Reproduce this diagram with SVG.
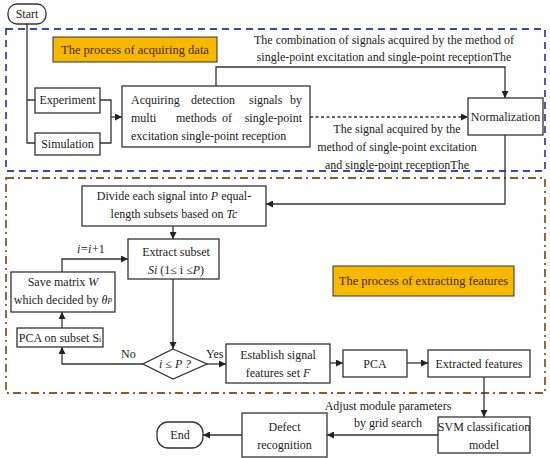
<svg xmlns="http://www.w3.org/2000/svg" width="550" height="458" viewBox="0 0 550 458" font-family="'Liberation Serif','DejaVu Serif',serif">
<defs>
<marker id="ah" viewBox="0 0 10 10" refX="10" refY="5" markerWidth="7" markerHeight="7" markerUnits="userSpaceOnUse" orient="auto"><path d="M0,0 L10,5 L0,10 z" fill="#222"/></marker>
<style>
text{font-family:"Liberation Serif","DejaVu Serif",serif;font-size:12px;fill:#222}
.m{text-anchor:middle}
.e{text-anchor:end}
.box{fill:#fff;stroke:#333;stroke-width:1.3}
.lab{fill:#f7b800;stroke:#333;stroke-width:1}
.lt{fill:#4a2800;font-size:12.5px}
.ln{fill:none;stroke:#333;stroke-width:1.3}
.it{font-style:italic}
</style>
</defs>
<rect x="6" y="29" width="539" height="142" fill="none" stroke="#3848b8" stroke-width="1.8" stroke-dasharray="7,5"/>
<rect x="6" y="178" width="539" height="215" fill="none" stroke="#8b5a2b" stroke-width="1.8" stroke-dasharray="8,4,2,4"/>
<g id="connectors">
<path class="ln" d="M27,24 V143 H35 M27,100 H35"/>
<path class="ln" d="M100,100 H111 V143 H100"/>
<path class="ln" d="M111,117 H122" marker-end="url(#ah)"/>
<path class="ln" d="M216,86 V67 H505 V98" marker-end="url(#ah)"/>
<path class="ln" d="M310,117 H468" stroke-dasharray="3,2.5" marker-end="url(#ah)"/>
<path class="ln" d="M505,135 V204 H266" marker-end="url(#ah)"/>
<path class="ln" d="M173,226 V239" marker-end="url(#ah)"/>
<path class="ln" d="M62,272 V259 H128" marker-end="url(#ah)"/>
<path class="ln" d="M173,279 V349" marker-end="url(#ah)"/>
<path class="ln" d="M143,364 H62 V347" marker-end="url(#ah)"/>
<path class="ln" d="M62,328 V312" marker-end="url(#ah)"/>
<path class="ln" d="M207,364 H226" marker-end="url(#ah)"/>
<path class="ln" d="M330,363 H343" marker-end="url(#ah)"/>
<path class="ln" d="M407,363 H428" marker-end="url(#ah)"/>
<path class="ln" d="M484,377 V417" marker-end="url(#ah)"/>
<path class="ln" d="M438,435 H327" marker-end="url(#ah)"/>
<path class="ln" d="M242,435 H203" marker-end="url(#ah)"/>
<text class="m" x="384" y="44">The combination of signals acquired by the method of</text>
<text class="m" x="384" y="61">single-point excitation and single-point receptionThe</text>
<text class="m" x="397" y="133">The signal acquired by the</text>
<text class="m" x="397" y="151">method of single-point excitation</text>
<text class="m" x="397" y="169">and single-point receptionThe</text>
<text class="it" x="77" y="253">i</text><text x="81" y="253">=</text><text class="it" x="88" y="253">i</text><text x="92" y="253">+1</text>
<text x="121" y="358">No</text>
<text x="206" y="358">Yes</text>
<text class="m" x="388" y="410">Adjust module parameters</text>
<text class="m" x="388" y="427">by grid search</text>
</g>
<g id="start"><rect class="box" x="8" y="4" width="38" height="20" rx="9"/><text class="m" x="27" y="18">Start</text></g>
<g id="label-acquire"><rect class="lab" x="53" y="37" width="164" height="25"/><text class="m lt" x="135" y="54">The process of acquiring data</text></g>
<g id="experiment"><rect class="box" x="35" y="88" width="65" height="25"/><text class="m" x="67.5" y="104">Experiment</text></g>
<g id="simulation"><rect class="box" x="35" y="133" width="65" height="22"/><text class="m" x="67.5" y="148">Simulation</text></g>
<g id="acquiring"><rect class="box" x="122" y="86" width="188" height="61"/>
<text x="131" y="104">Acquiring</text><text x="191" y="104">detection</text><text x="249" y="104">signals</text><text class="e" x="302" y="104">by</text>
<text x="131" y="122">multi</text><text x="176" y="122">methods</text><text x="222" y="122">of</text><text class="e" x="302" y="122">single-point</text>
<text x="131" y="140">excitation single-point reception</text></g>
<g id="normalization"><rect class="box" x="468" y="98" width="75" height="37"/><text class="m" x="505.5" y="121">Normalization</text></g>
<g id="divide"><rect class="box" x="82" y="186" width="184" height="40"/>
<text class="m" x="174" y="200">Divide each signal into <tspan class="it">P</tspan> equal-</text>
<text class="m" x="174" y="218">length subsets based on <tspan class="it">Tc</tspan></text></g>
<g id="extract"><rect class="box" x="128" y="239" width="91" height="40"/>
<text class="m" x="176" y="256">Extract subset</text>
<text class="m" x="176" y="274"><tspan class="it">Si</tspan> (1≤ i ≤<tspan class="it">P</tspan>)</text></g>
<g id="label-extract"><rect class="lab" x="333" y="266" width="181" height="30"/><text class="m lt" x="423.5" y="285">The process of extracting features</text></g>
<g id="save"><rect class="box" x="11" y="272" width="104" height="40"/>
<text class="m" x="63" y="286">Save matrix  <tspan class="it">W</tspan></text>
<text class="m" x="63" y="304">which decided by <tspan class="it">θ</tspan><tspan class="it" font-size="8">P</tspan></text></g>
<g id="pca-subset"><rect class="box" x="17" y="328" width="86" height="19"/><text class="m" x="60" y="342">PCA on subset S<tspan font-size="8">i</tspan></text></g>
<g id="decision"><path class="box" d="M173,349 L207,364 L173,379 L143,364 z"/><text class="m it" x="175" y="368">i ≤ P ?</text></g>
<g id="establish"><rect class="box" x="226" y="344" width="104" height="39"/>
<text class="m" x="278" y="359">Establish signal</text>
<text class="m" x="278" y="377">features set <tspan class="it">F</tspan></text></g>
<g id="pca"><rect class="box" x="343" y="350" width="64" height="27"/><text class="m" x="375" y="368">PCA</text></g>
<g id="extracted"><rect class="box" x="428" y="350" width="102" height="27"/><text class="m" x="479" y="368">Extracted features</text></g>
<g id="svm"><rect class="box" x="438" y="417" width="92" height="36"/>
<text class="m" x="484" y="431">SVM classification</text>
<text class="m" x="484" y="449">model</text></g>
<g id="defect"><rect class="box" x="242" y="413" width="85" height="44"/>
<text class="m" x="284.5" y="431">Defect</text>
<text class="m" x="284.5" y="449">recognition</text></g>
<g id="end"><rect class="box" x="157" y="422" width="46" height="26" rx="11"/><text class="m" x="180" y="439">End</text></g>
</svg>
